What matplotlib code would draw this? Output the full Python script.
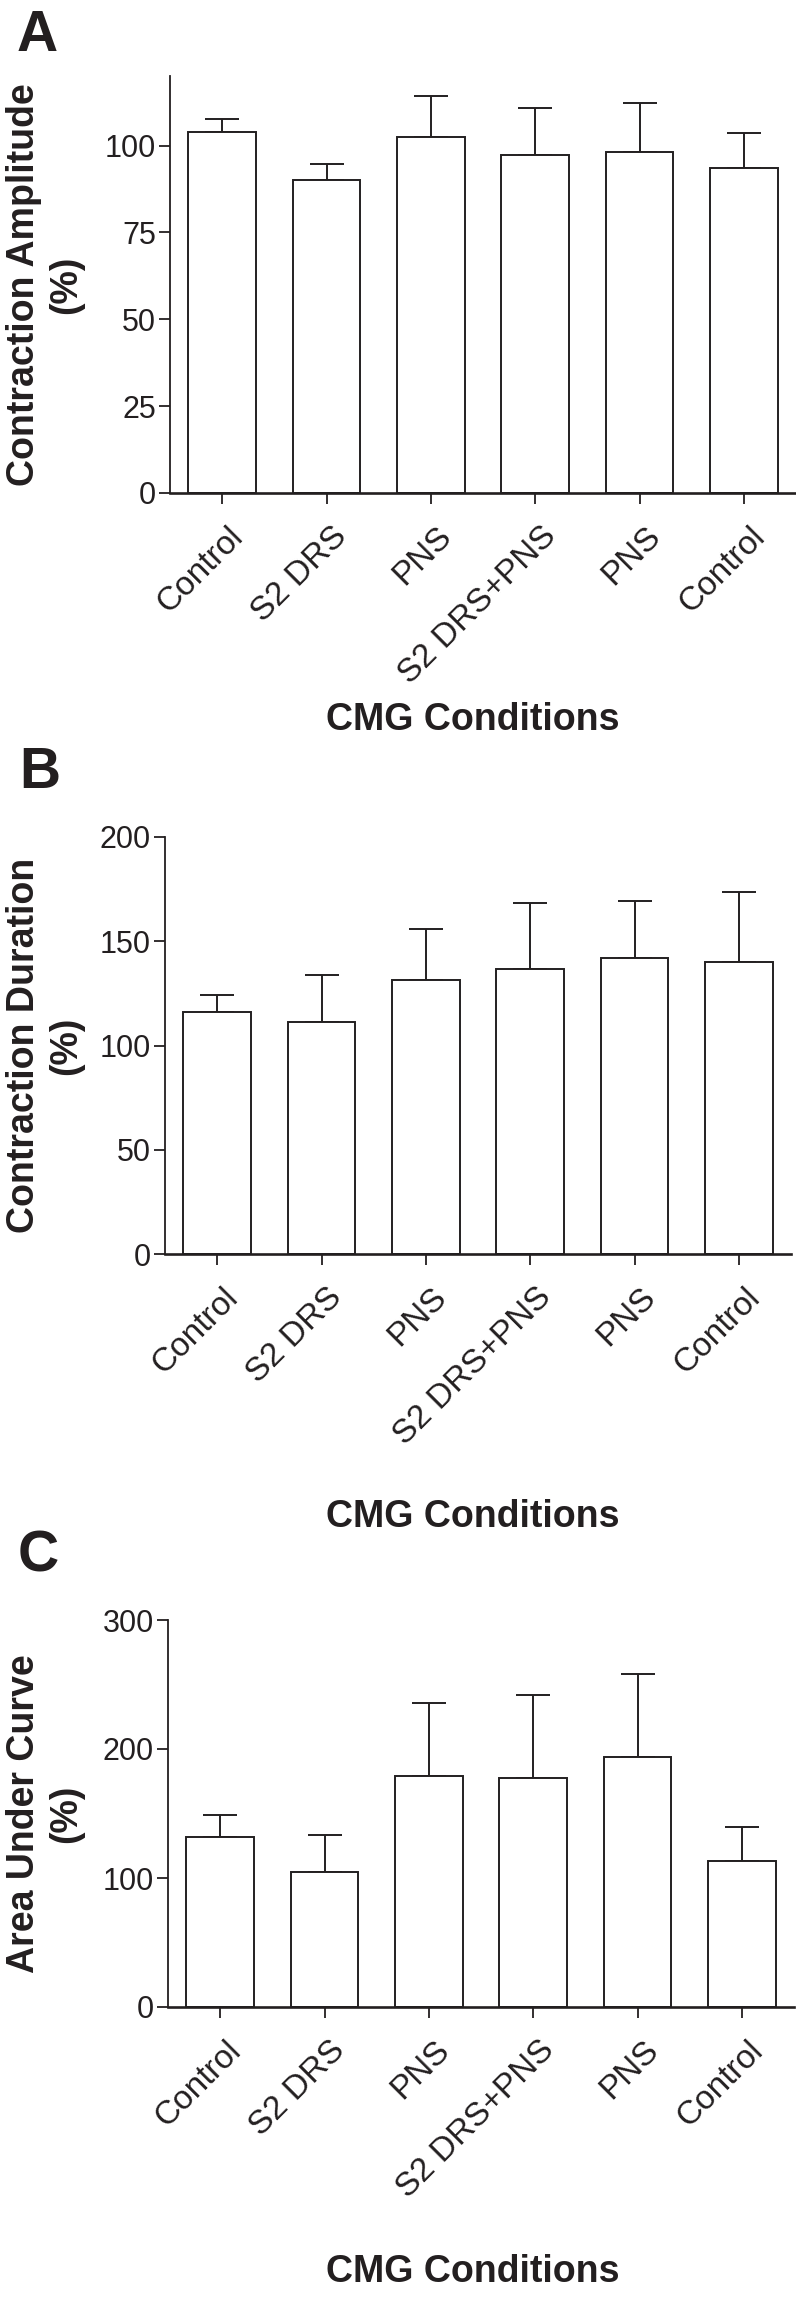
import matplotlib
matplotlib.use("Agg")
import matplotlib.pyplot as plt
import matplotlib.transforms as mtransforms
import numpy as np

plt.rcParams['font.family'] = ['Liberation Sans', 'DejaVu Sans']

conditions = ["Control", "S2 DRS", "PNS", "S2 DRS+PNS", "PNS", "Control"]

amp_mean = [103.9, 90.0, 102.5, 97.3, 98.0, 93.5]
amp_err = [3.8, 4.8, 11.8, 13.6, 14.1, 10.1]

dur_mean = [116.2, 111.4, 131.6, 136.7, 142.0, 140.2]
dur_err = [8.0, 22.3, 24.1, 31.8, 27.5, 33.6]

auc_mean = [132.1, 104.4, 178.7, 177.6, 193.8, 113.4]
auc_err = [16.5, 28.8, 56.8, 64.0, 64.3, 26.4]

amp_ticks = [0, 25, 50, 75, 100]
dur_ticks = [0, 50, 100, 150, 200]
auc_ticks = [0, 100, 200, 300]

INK = '#231f20'
W, H = 796, 2302
fig = plt.figure(figsize=(W / 100, H / 100), dpi=100)


def px_axes(left, right, top, bottom):
    return fig.add_axes([left / W, 1 - bottom / H, (right - left) / W, (bottom - top) / H])


panels = [
    dict(box=(170, 796, 76, 493), mean=amp_mean, err=amp_err, ylim=120, ticks=amp_ticks,
         ylabel="Contraction Amplitude\n(%)", letter="A", lpos=(17, 51), xl_y=716),
    dict(box=(165, 791, 837, 1254), mean=dur_mean, err=dur_err, ylim=200, ticks=dur_ticks,
         ylabel="Contraction Duration\n(%)", letter="B", lpos=(19, 788), xl_y=1513),
    dict(box=(168, 794, 1620, 2007), mean=auc_mean, err=auc_err, ylim=300, ticks=auc_ticks,
         ylabel="Area Under Curve\n(%)", letter="C", lpos=(18, 1572), xl_y=2268),
]

for p in panels:
    l, r, t, b = p['box']
    ax = px_axes(l, r, t, b)
    x = np.arange(len(conditions))
    ax.errorbar(x, p['mean'], yerr=[np.zeros(len(x)), p['err']], fmt='none',
                ecolor=INK, elinewidth=1.4, capsize=12, capthick=1.4, zorder=1)
    ax.bar(x, p['mean'], width=0.65, color='white', edgecolor=INK, linewidth=1.4, zorder=2)
    ax.set_xlim(-0.5, len(conditions) - 0.5)
    ax.set_ylim(0, p['ylim'])
    ax.set_yticks(p['ticks'])
    ax.set_yticklabels([str(v) for v in p['ticks']])
    ax.tick_params(axis='y', labelsize=22, length=8, width=1.3, color=INK, labelcolor=INK, pad=2)
    ax.tick_params(axis='x', length=8, width=1.3, color=INK, pad=20)
    ax.set_xticks(x)
    ax.set_xticklabels(conditions, rotation=45, ha='right', va='center',
                       rotation_mode='anchor', fontsize=24, color=INK)
    shift = mtransforms.ScaledTranslation(16 / 100, 0, fig.dpi_scale_trans)
    for lab in ax.get_xticklabels():
        lab.set_transform(lab.get_transform() + shift)
    for s in ['top', 'right']:
        ax.spines[s].set_visible(False)
    ax.spines['left'].set_linewidth(1.3)
    ax.spines['left'].set_color(INK)
    ax.spines['bottom'].set_linewidth(1.9)
    ax.spines['bottom'].set_color(INK)
    ax.patch.set_alpha(0)
    # y label
    fig.text(45 / W, 1 - ((t + b) / 2) / H, p['ylabel'], rotation=90, ha='center', va='center',
             multialignment='center', fontsize=27, fontweight='bold', color=INK, linespacing=1.2)
    # x label
    fig.text(473 / W, 1 - p['xl_y'] / H, "CMG Conditions", ha='center', va='center_baseline',
             fontsize=27, fontweight='bold', color=INK)
    # panel letter
    fig.text(p['lpos'][0] / W, 1 - p['lpos'][1] / H, p['letter'], ha='left', va='baseline',
             fontsize=41, fontweight='bold', color=INK)

fig.savefig("out.png", dpi=100, facecolor='white')
